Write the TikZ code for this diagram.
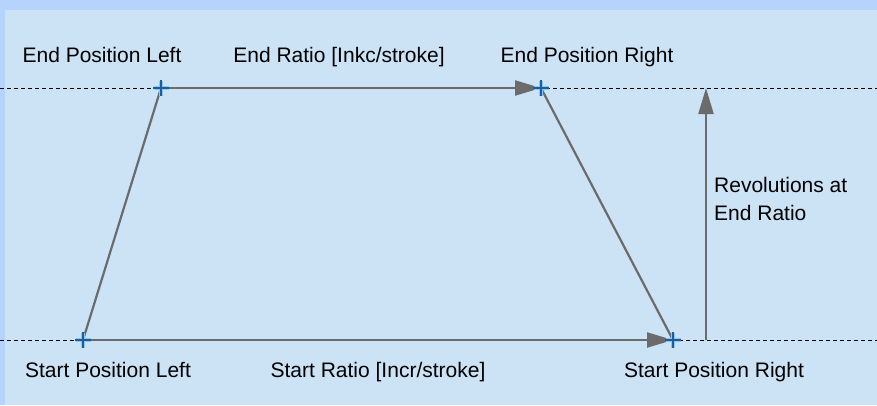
\documentclass[tikz,border=0pt]{standalone}
\usepackage{fontspec}
\setmainfont{Liberation Sans}
\usetikzlibrary{arrows.meta,positioning}
\definecolor{PanelBlue}{HTML}{CCE3F6}
\definecolor{FrameBlue}{HTML}{B5D3FD}
\definecolor{LineGray}{HTML}{6B6B6B}
\definecolor{CrossBlue}{HTML}{1F5C9A}
\definecolor{GlowBlue}{HTML}{8DC6EE}
\newcommand{\poscross}[1]{%
  \draw[GlowBlue, line width=3.5pt] ([xshift=-7.5pt]#1) -- ([xshift=7.5pt]#1)
    ([yshift=-7.5pt]#1) -- ([yshift=7.5pt]#1);
  \draw[CrossBlue, line width=1.3pt] ([xshift=-8pt]#1) -- ([xshift=8pt]#1)
    ([yshift=-8pt]#1) -- ([yshift=8pt]#1);}

\begin{document}
\begin{tikzpicture}[x=1pt, y=-1pt, font=\fontsize{21}{28}\selectfont,
  conn/.style={LineGray, line width=2.2pt},
  arr/.style={conn, -{Triangle[length=26pt, width=15pt]}},
  guide/.style={black, line width=1pt, dash pattern=on 4pt off 3pt},
  lbl/.style={anchor=base, inner sep=0pt}]
  \fill[FrameBlue] (0,0) rectangle (877,405);
  \fill[PanelBlue] (5,10) rectangle (877,405);
  \useasboundingbox (0,0) rectangle (877,405);
  % corner points of the stroke
  \coordinate (endL) at (161,88);
  \coordinate (endR) at (541,88);
  \coordinate (startL) at (83,340);
  \coordinate (startR) at (673,340);
  \coordinate (revB) at (706,340);
  \coordinate (revT) at (706,88);
  % guide lines
  \coordinate (topW) at (0,88);   \coordinate (topE) at (877,88);
  \coordinate (botW) at (0,340);  \coordinate (botE) at (877,340);
  \draw[guide] (topW) -- (topE);
  \draw[guide] (botW) -- (botE);
  % stroke
  \draw[conn] (startL) -- (endL);
  \draw[arr] (endL) -- (endR);
  \draw[conn] (endR) -- (startR);
  \draw[arr] (startL) -- (startR);
  \draw[arr] (revB) -- (revT);
  \foreach \p in {endL, endR, startL, startR}
    {\poscross{\p}}
  % labels
  \node[lbl] (endLtxt) at (102,62) {End Position Left};
  \node[lbl] (endRatio) at (339,62) {End Ratio [Inkc/stroke]};
  \node[lbl] (endRtxt) at (587,62) {End Position Right};
  \node[lbl] (startLtxt) at (108,377) {Start Position Left};
  \node[lbl] (startRatio) at (378,377) {Start Ratio [Incr/stroke]};
  \node[lbl] (startRtxt) at (714,377) {Start Position Right};
  \node[anchor=west, align=left, inner sep=0pt] (revtxt) at (714,199)
    {Revolutions at\\End Ratio};
\end{tikzpicture}
\end{document}
